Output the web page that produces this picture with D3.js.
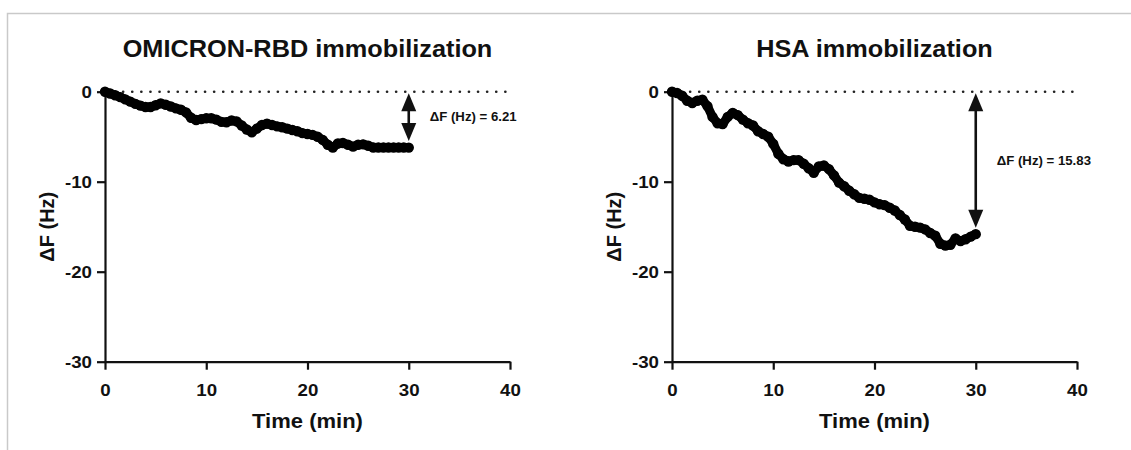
<!DOCTYPE html>
<html>
<head>
<meta charset="utf-8">
<script src="https://cdn.jsdelivr.net/npm/d3@7"></script>
<style>
  body { margin: 0; background: #fff; }
  svg text { font-family: "Liberation Sans", Arial, sans-serif; font-weight: bold; fill: #111; }
</style>
</head>
<body>
<div id="chart"></div>
<script>
// time points (min)
const times = [0, 0.5, 1, 1.5, 2, 2.5, 3, 3.5, 4, 4.5, 5, 5.5, 6, 6.5, 7, 7.5, 8, 8.5, 9, 9.5,
  10, 10.5, 11, 11.5, 12, 12.5, 13, 13.5, 14, 14.5, 15, 15.5, 16, 16.5, 17, 17.5, 18, 18.5, 19, 19.5,
  20, 20.5, 21, 21.5, 22, 22.5, 23, 23.5, 24, 24.5, 25, 25.5, 26, 26.5, 27, 27.5, 28, 28.5, 29, 29.5, 30];

// frequency shift (Hz), OMICRON-RBD
const omicronShift = [0, -0.2, -0.4, -0.6, -0.85, -1.1, -1.35, -1.55, -1.7, -1.7,
  -1.5, -1.3, -1.45, -1.65, -1.85, -2.0, -2.3, -2.9, -3.15, -3.05,
  -2.95, -2.95, -3.1, -3.35, -3.4, -3.2, -3.3, -3.75, -4.2, -4.5,
  -4.1, -3.7, -3.55, -3.7, -3.85, -3.95, -4.1, -4.25, -4.4, -4.6,
  -4.7, -4.8, -5.0, -5.35, -5.9, -6.2, -5.75, -5.7, -5.9, -6.1,
  -5.9, -5.85, -6.0, -6.2, -6.2, -6.2, -6.2, -6.2, -6.2, -6.2, -6.21];

// frequency shift (Hz), HSA
const hsaShift = [0, -0.15, -0.45, -1.0, -1.25, -1.0, -0.9, -1.6, -2.8, -3.5,
  -3.6, -2.8, -2.35, -2.6, -3.1, -3.5, -3.75, -4.4, -4.7, -5.0,
  -5.8, -6.9, -7.5, -7.75, -7.6, -7.6, -8.0, -8.5, -9.0, -8.3,
  -8.2, -8.6, -9.3, -10.1, -10.5, -11.0, -11.4, -11.8, -11.9, -12.0,
  -12.3, -12.5, -12.6, -12.9, -13.2, -13.7, -14.2, -14.9, -15.0, -15.1,
  -15.3, -15.7, -16.0, -16.9, -17.1, -17.0, -16.3, -16.6, -16.4, -16.1, -15.83];

const panelTitles = ["OMICRON-RBD immobilization", "HSA immobilization"];
const deltaValues = [6.21, 15.83];
const deltaLabels = ["ΔF (Hz) = 6.21", "ΔF (Hz) = 15.83"];
const xTicks = [0, 10, 20, 30, 40];
const yTicks = [0, -10, -20, -30];

const width = 1131, height = 450;
const stretch = 1.1; // glyphs in the source look slightly wide

const svg = d3.select("#chart").append("svg")
    .attr("width", width)
    .attr("height", height);

svg.append("rect").attr("width", width).attr("height", height).attr("fill", "#fff");

// faint frame from the source screenshot
svg.append("path")
    .attr("d", `M7.5,${height} V13.5 H${width}`)
    .attr("fill", "none")
    .attr("stroke", "#c9c9c9")
    .attr("stroke-width", 1.5);

function widen(sel) {
    sel.each(function () {
        const w = this.getComputedTextLength();
        d3.select(this).attr("textLength", w * stretch).attr("lengthAdjust", "spacingAndGlyphs");
    });
}

const panels = [
    { x0: 105, x1: 510, series: omicronShift },
    { x0: 672, x1: 1077, series: hsaShift }
];

panels.forEach((p, i) => {
    const x = d3.scaleLinear().domain([0, 40]).range([p.x0, p.x1]);
    const y = d3.scaleLinear().domain([-30, 0]).range([361.7, 91.7]);
    const g = svg.append("g");

    // title
    g.append("text")
        .attr("x", (p.x0 + p.x1) / 2)
        .attr("y", 57)
        .attr("text-anchor", "middle")
        .style("font-size", "23px")
        .text(panelTitles[i])
        .call(widen);

    // dotted zero line
    g.append("line")
        .attr("x1", x(0) + 9).attr("x2", x(40) - 4)
        .attr("y1", y(0)).attr("y2", y(0))
        .attr("stroke", "#222")
        .attr("stroke-width", 2.6)
        .attr("stroke-linecap", "round")
        .attr("stroke-dasharray", "0.1 9");

    // axes
    const xAxis = g.append("g")
        .attr("transform", `translate(0,${y(-30)})`)
        .call(d3.axisBottom(x).tickValues(xTicks).tickFormat(d => String(d))
            .tickSize(8).tickSizeOuter(0).tickPadding(14));
    const yAxis = g.append("g")
        .attr("transform", `translate(${x(0)},0)`)
        .call(d3.axisLeft(y).tickValues(yTicks).tickFormat(d => String(d))
            .tickSize(8).tickSizeOuter(0).tickPadding(5));

    [xAxis, yAxis].forEach(ax => {
        ax.select(".domain").attr("stroke", "#111").attr("stroke-width", 2.2);
        ax.selectAll(".tick line").attr("stroke", "#111").attr("stroke-width", 2.2);
        ax.selectAll(".tick text")
            .attr("fill", "#111")
            .style("font-size", "17px")
            .style("font-family", "'Liberation Sans', Arial, sans-serif")
            .style("font-weight", "bold")
            .call(widen);
    });
    xAxis.selectAll(".tick text").attr("dy", "0.75em");

    // axis titles
    g.append("text")
        .attr("x", (p.x0 + p.x1) / 2)
        .attr("y", 428)
        .attr("text-anchor", "middle")
        .style("font-size", "20px")
        .text("Time (min)")
        .call(widen);

    g.append("text")
        .attr("transform", `translate(${x(0) - 51},${(y(0) + y(-30)) / 2}) rotate(-90)`)
        .attr("text-anchor", "middle")
        .style("font-size", "20px")
        .text("ΔF (Hz)");

    // data: thick trace plus dense markers
    const pts = times.map((t, k) => [t, p.series[k]]);
    g.append("path")
        .datum(pts)
        .attr("d", d3.line().x(d => x(d[0])).y(d => y(d[1])))
        .attr("fill", "none")
        .attr("stroke", "#000")
        .attr("stroke-width", 9)
        .attr("stroke-linejoin", "round")
        .attr("stroke-linecap", "round");
    g.append("g").selectAll("circle")
        .data(pts)
        .enter().append("circle")
        .attr("cx", d => x(d[0]))
        .attr("cy", d => y(d[1]))
        .attr("r", 5.2)
        .attr("fill", "#000");

    // double headed arrow for the total shift
    const ax = x(30);
    const top = y(0) + 1.5;
    const bottom = y(-deltaValues[i]) - 6.5;
    const hw = 7.5, hh = 18;
    g.append("line")
        .attr("x1", ax).attr("x2", ax)
        .attr("y1", top + hh - 2).attr("y2", bottom - hh + 2)
        .attr("stroke", "#111")
        .attr("stroke-width", 2.6);
    g.append("path")
        .attr("d", `M${ax},${top} L${ax - hw},${top + hh} L${ax + hw},${top + hh} Z`)
        .attr("fill", "#111");
    g.append("path")
        .attr("d", `M${ax},${bottom} L${ax - hw},${bottom - hh} L${ax + hw},${bottom - hh} Z`)
        .attr("fill", "#111");

    g.append("text")
        .attr("x", ax + 21)
        .attr("y", (top + bottom) / 2)
        .attr("dy", "0.35em")
        .style("font-size", "12px")
        .text(deltaLabels[i])
        .call(widen);
});
</script>
</body>
</html>
